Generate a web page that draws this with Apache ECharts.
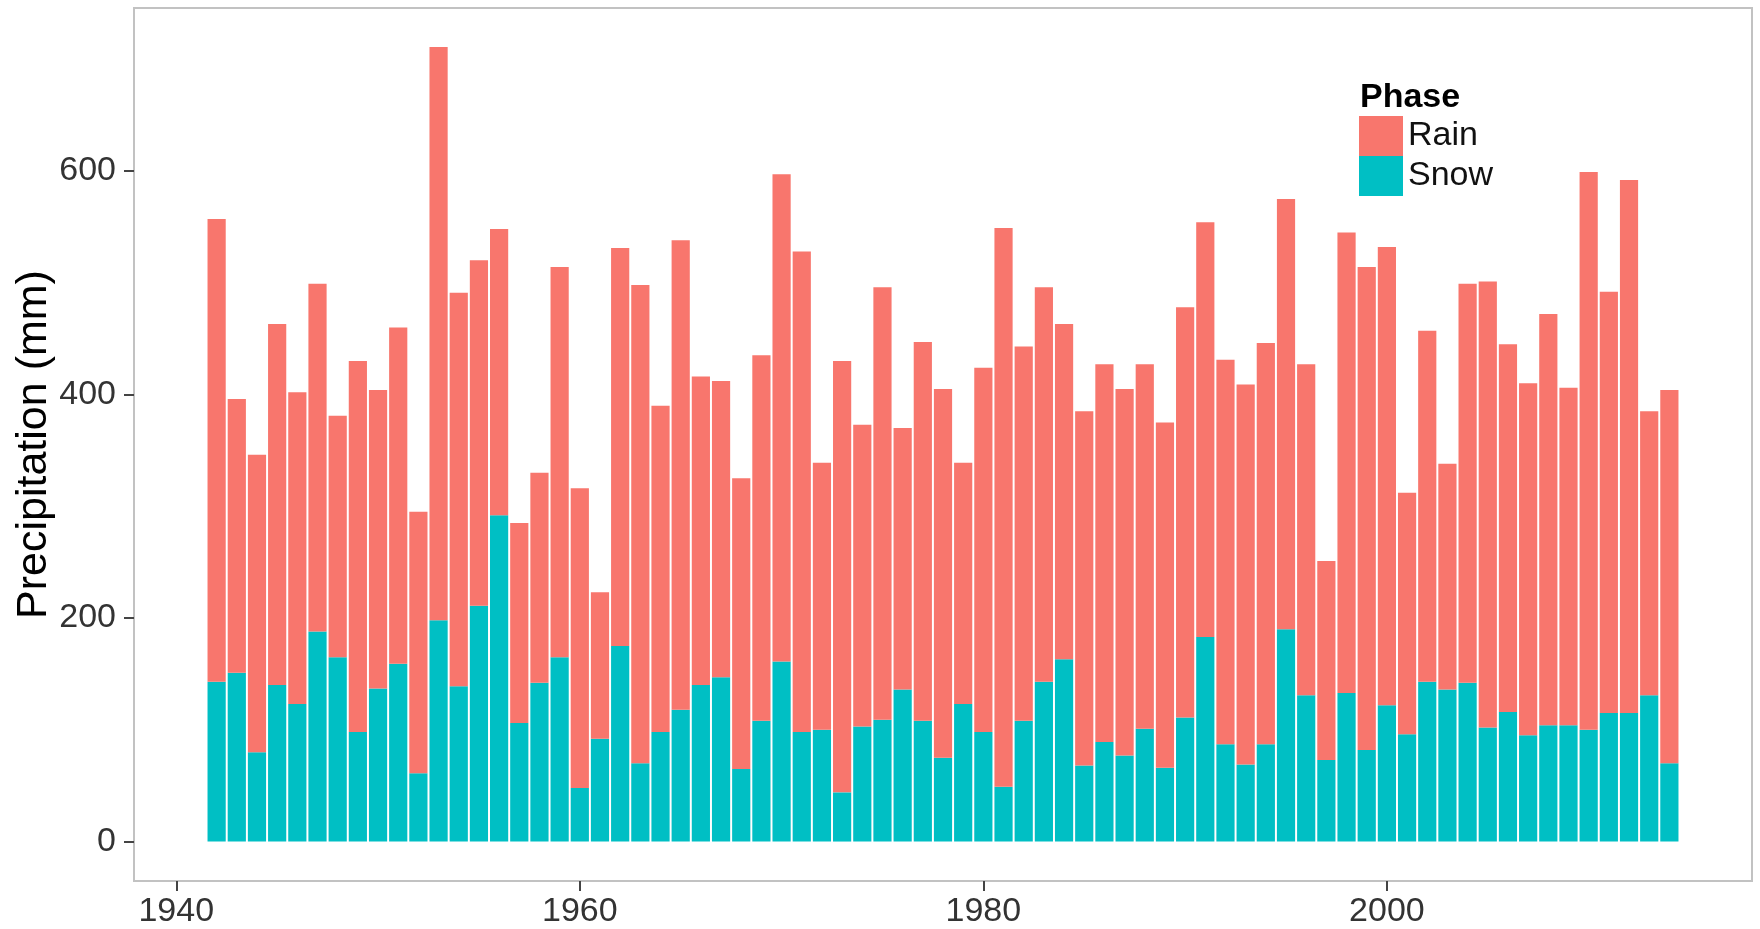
<!DOCTYPE html>
<html>
<head>
<meta charset="utf-8">
<script src="https://cdn.jsdelivr.net/npm/echarts@6/dist/echarts.min.js"></script>
<style>
html,body{margin:0;padding:0;background:#fff;}
#chart{width:1760px;height:929px;}
</style>
</head>
<body>
<div id="chart"></div>
<script>
const years = [1942,1943,1944,1945,1946,1947,1948,1949,1950,1951,1952,1953,1954,1955,1956,1957,1958,1959,1960,1961,
1962,1963,1964,1965,1966,1967,1968,1969,1970,1971,1972,1973,1974,1975,1976,1977,1978,1979,1980,1981,
1982,1983,1984,1985,1986,1987,1988,1989,1990,1991,1992,1993,1994,1995,1996,1997,1998,1999,2000,2001,
2002,2003,2004,2005,2006,2007,2008,2009,2010,2011,2012,2013,2014];

const snow = [143,151,80,140,123,188,165,98,137,159,61,198,139,211,292,106,142,165,48,92,
175,70,98,118,140,147,65,108,161,98,100,44,103,109,136,108,75,123,98,49,
108,143,163,68,89,77,101,66,111,183,87,69,87,190,131,73,133,82,122,96,
143,136,142,102,116,95,104,104,100,115,115,131,70];

const rain = [414,245,266,323,279,311,216,332,267,301,234,513,352,309,256,179,188,349,268,131,
356,428,292,420,276,265,260,327,436,430,239,386,270,387,234,339,330,216,326,500,
335,353,300,317,338,328,326,309,367,371,344,340,359,385,296,178,412,432,410,216,
314,202,357,399,329,315,368,302,499,377,477,254,334];

const xTicks = [1940,1960,1980,2000];
const yTicks = [0,200,400,600];

const chart = echarts.init(document.getElementById('chart'));
const font = '"Liberation Sans", Arial, sans-serif';
chart.setOption({
  animation: false,
  backgroundColor: '#fff',
  textStyle: {fontFamily: font},
  grid: {left: 134, top: 8, right: 8, bottom: 48, show: true, borderColor: '#c2c2c2', borderWidth: 2, backgroundColor: 'transparent'},
  title: {
    text: 'Phase', left: 1355, top: 76,
    textStyle: {fontFamily: font, fontWeight: 'bold', fontSize: 34, color: '#000'}
  },
  legend: {
    data: ['Rain','Snow'], orient: 'vertical', left: 1354, top: 111,
    itemWidth: 44, itemHeight: 40, itemGap: 0, icon: 'rect',
    textStyle: {fontFamily: font, fontSize: 34, color: '#111', lineHeight: 40}
  },
  xAxis: {
    type: 'value', min: 1937.905, max: 2018.095,
    splitLine: {show: false},
    axisLine: {show: false, onZero: false},
    axisTick: {show: true, customValues: xTicks, length: 10, lineStyle: {color: '#444', width: 2}},
    axisLabel: {customValues: xTicks, fontSize: 34, color: '#333', margin: 14, fontFamily: font,
                formatter: v => String(v)}
  },
  yAxis: {
    type: 'value', min: -35.3, max: 745.8,
    name: 'Precipitation (mm)', nameLocation: 'middle', nameRotate: 90, nameGap: 78,
    nameMoveOverlap: false,
    nameTextStyle: {fontFamily: font, fontSize: 43, color: '#000'},
    splitLine: {show: false},
    axisLine: {show: false, onZero: false},
    axisTick: {show: true, customValues: yTicks, length: 10, lineStyle: {color: '#444', width: 2}},
    axisLabel: {customValues: yTicks, fontSize: 34, color: '#333', margin: 18, fontFamily: font}
  },
  series: [
    {name: 'Snow', type: 'bar', stack: 'p', barWidth: 18.2,
     dimensions: ['amount', 'year'], encode: {x: 'year', y: 'amount'},
     itemStyle: {color: '#00BFC4'},
     data: years.map((y, i) => [snow[i], y])},
    {name: 'Rain', type: 'bar', stack: 'p', barWidth: 18.2,
     dimensions: ['amount', 'year'], encode: {x: 'year', y: 'amount'},
     itemStyle: {color: '#F8766D'},
     data: years.map((y, i) => [rain[i], y])}
  ]
});
</script>
</body>
</html>
